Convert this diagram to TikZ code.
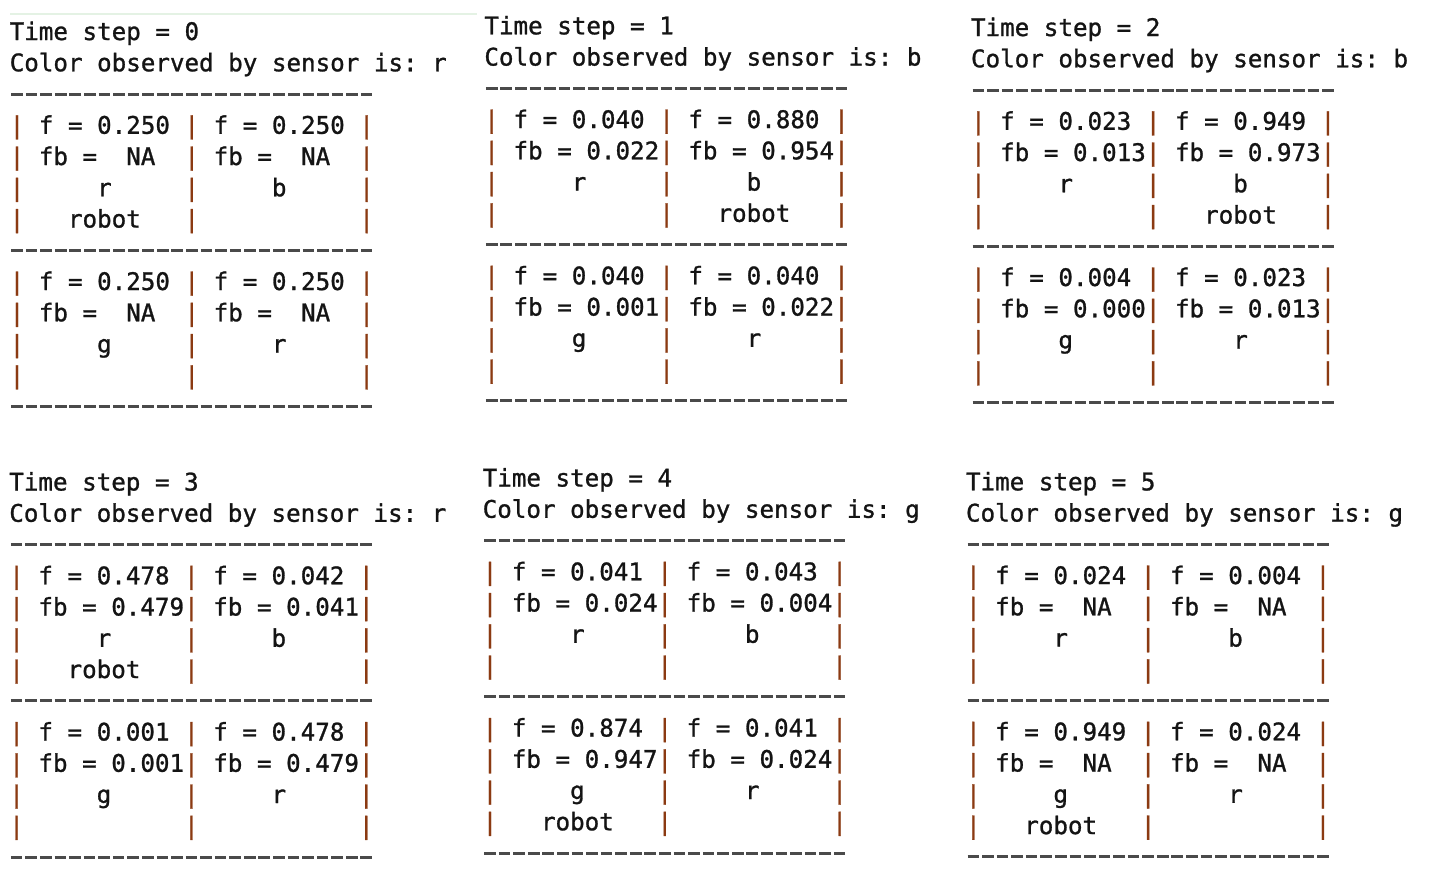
\documentclass[tikz,border=0pt]{standalone}
\usepackage{fontspec}
\newfontfamily\monofam[FakeBold=1.1]{DejaVu Sans Mono}
\definecolor{pipe}{HTML}{8B3A12}
\definecolor{ink}{HTML}{141414}
\definecolor{dashc}{HTML}{4A4A4A}
\definecolor{faint}{HTML}{E4F2E4}
\newcommand\pp{{\color{pipe}|}}
\newcommand\cf[1]{~f~=~#1~}
\newcommand\cfb[1]{~fb~=~#1}
\newcommand\cc[1]{~~~~~#1~~~~~}
\newcommand\crob{~~~robot~~~}
\newcommand\cnone{~~~~~~~~~~~}
\newcommand\NAv{~NA~~}
\tikzset{
  txt/.style={anchor=base west, inner sep=0pt, outer sep=0pt, text=ink,
    font=\monofam\frenchspacing\fontsize{24.2}{30}\selectfont},
  dashline/.style={draw=dashc, line width=3pt, dash pattern=on 11.6pt off 2.97pt},
  faintline/.style={draw=faint, line width=1.2pt},
}
% panel header and rules: name, x, y0, step, observed colour
\newcommand\panel[5]{%
  \node[txt] (#1t) at (#2,{#3}) {Time step = #4};
  \node[txt] (#1o) at (#2,{#3+31.25}) {Color observed by sensor is: #5};
  \coordinate (#1h1a) at ({#2+1.5},{#3+62.5-8.5});
  \coordinate (#1h1b) at ({#2+25*14.57-1.5},{#3+62.5-8.5});
  \coordinate (#1h2a) at ({#2+1.5},{#3+218.75-8.5});
  \coordinate (#1h2b) at ({#2+25*14.57-1.5},{#3+218.75-8.5});
  \coordinate (#1h3a) at ({#2+1.5},{#3+375-8.5});
  \coordinate (#1h3b) at ({#2+25*14.57-1.5},{#3+375-8.5});
  \draw[dashline] (#1h1a) -- (#1h1b);
  \draw[dashline] (#1h2a) -- (#1h2b);
  \draw[dashline] (#1h3a) -- (#1h3b);
}
% three rows of a grid block: name, x, baseline, f1, f2, fb1, fb2, c1, c2
\newcommand\cells[9]{%
  \node[txt] (#1f) at (#2,{#3}) {\pp\cf{#4}\pp\cf{#5}\pp};
  \node[txt] (#1b) at (#2,{#3+31.25}) {\pp\cfb{#6}\pp\cfb{#7}\pp};
  \node[txt] (#1c) at (#2,{#3+62.5}) {\pp\cc{#8}\pp\cc{#9}\pp};
}
% fourth row: name, x, baseline, left, right
\newcommand\robline[5]{%
  \node[txt] (#1r) at (#2,{#3}) {\pp#4\pp#5\pp};
}
\begin{document}
\begin{tikzpicture}[x=1pt,y=-1pt]
\useasboundingbox (0,0) rectangle (1429,876);
\fill[white] (0,0) rectangle (1429,876);
\coordinate (fa) at (10,14);
\coordinate (fb) at (477,14);
\draw[faintline] (fa) -- (fb);

% ---- Time step 0
\panel{p0}{9.7}{40}{0}{r}
\cells{p0u}{9.7}{40+93.75}{0.250}{0.250}{\NAv}{\NAv}{r}{b}
\robline{p0u}{9.7}{40+187.5}{\crob}{\cnone}
\cells{p0l}{9.7}{40+250}{0.250}{0.250}{\NAv}{\NAv}{g}{r}
\robline{p0l}{9.7}{40+343.75}{\cnone}{\cnone}

% ---- Time step 1
\panel{p1}{484.4}{34.3}{1}{b}
\cells{p1u}{484.4}{34.3+93.75}{0.040}{0.880}{0.022}{0.954}{r}{b}
\robline{p1u}{484.4}{34.3+187.5}{\cnone}{\crob}
\cells{p1l}{484.4}{34.3+250}{0.040}{0.040}{0.001}{0.022}{g}{r}
\robline{p1l}{484.4}{34.3+343.75}{\cnone}{\cnone}

% ---- Time step 2
\panel{p2}{971}{36}{2}{b}
\cells{p2u}{971}{36+93.75}{0.023}{0.949}{0.013}{0.973}{r}{b}
\robline{p2u}{971}{36+187.5}{\cnone}{\crob}
\cells{p2l}{971}{36+250}{0.004}{0.023}{0.000}{0.013}{g}{r}
\robline{p2l}{971}{36+343.75}{\cnone}{\cnone}

% ---- Time step 3
\panel{p3}{9.3}{490.5}{3}{r}
\cells{p3u}{9.3}{490.5+93.75}{0.478}{0.042}{0.479}{0.041}{r}{b}
\robline{p3u}{9.3}{490.5+187.5}{\crob}{\cnone}
\cells{p3l}{9.3}{490.5+250}{0.001}{0.478}{0.001}{0.479}{g}{r}
\robline{p3l}{9.3}{490.5+343.75}{\cnone}{\cnone}

% ---- Time step 4
\panel{p4}{482.7}{486.5}{4}{g}
\cells{p4u}{482.7}{486.5+93.75}{0.041}{0.043}{0.024}{0.004}{r}{b}
\robline{p4u}{482.7}{486.5+187.5}{\cnone}{\cnone}
\cells{p4l}{482.7}{486.5+250}{0.874}{0.041}{0.947}{0.024}{g}{r}
\robline{p4l}{482.7}{486.5+343.75}{\crob}{\cnone}

% ---- Time step 5
\panel{p5}{966}{490.3}{5}{g}
\cells{p5u}{966}{490.3+93.75}{0.024}{0.004}{\NAv}{\NAv}{r}{b}
\robline{p5u}{966}{490.3+187.5}{\cnone}{\cnone}
\cells{p5l}{966}{490.3+250}{0.949}{0.024}{\NAv}{\NAv}{g}{r}
\robline{p5l}{966}{490.3+343.75}{\crob}{\cnone}
\end{tikzpicture}
\end{document}
